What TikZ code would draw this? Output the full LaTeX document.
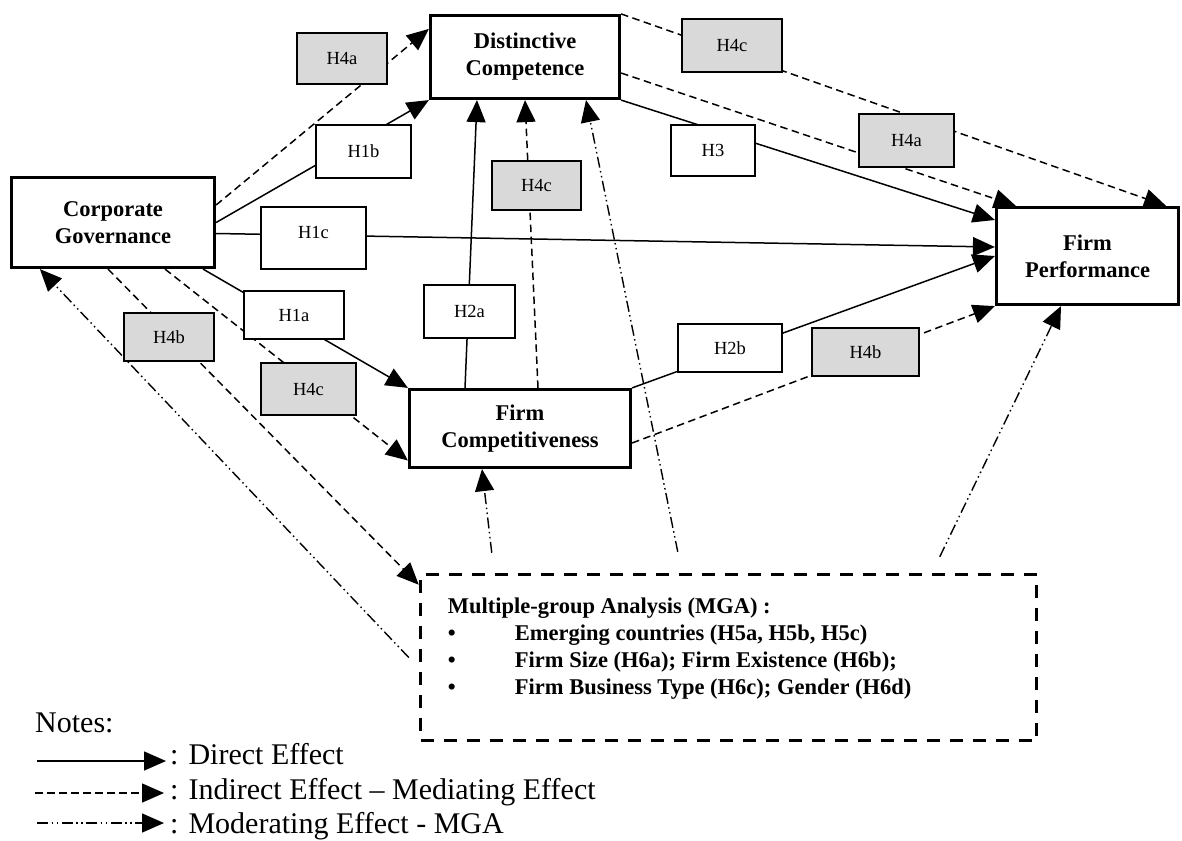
\documentclass[tikz,border=0pt]{standalone}
\usepackage{fontspec}
\setmainfont{Liberation Serif}
\usepackage{tikz}
\usetikzlibrary{arrows.meta,calc,positioning}
\definecolor{hypgray}{HTML}{D9D9D9}

\begin{document}
\begin{tikzpicture}[x=1pt,y=-1pt,
  construct/.style={draw,line width=3.2pt,fill=white,align=center,inner sep=0pt,font=\fontsize{22.5}{27}\selectfont\bfseries},
  hyp/.style={draw,line width=1.6pt,fill=white,inner sep=0pt,font=\fontsize{18.5}{22}\selectfont},
  hypmed/.style={hyp,fill=hypgray},
  legendtext/.style={anchor=base west,inner sep=0pt,font=\fontsize{30}{34}\selectfont},
  direct/.style={line width=1.5pt,-{Triangle[length=22pt,width=19pt]}},
  indirect/.style={direct,dash pattern=on 7.5pt off 4.5pt},
  moderate/.style={direct,line width=1.4pt,dash pattern=on 11pt off 3.5pt on 1.5pt off 3.5pt on 1.5pt off 3.5pt}]
  \useasboundingbox (0,0) rectangle (1182,840);

  \node[construct,minimum width=203pt,minimum height=90pt] (cg) at (113,222.5) {Corporate\\Governance};
  \node[construct,minimum width=189pt,minimum height=83pt] (dc) at (525,57) {Distinctive\\Competence};
  \node[construct,minimum width=221pt,minimum height=78pt] (fc) at (520,428.5) {Firm\\Competitiveness};
  \node[construct,minimum width=182pt,minimum height=97pt] (fp) at (1087.5,256) {Firm\\Performance};
  \node[draw,line width=3.5pt,dash pattern=on 13pt off 10pt,minimum width=616pt,minimum height=166pt,inner sep=0pt] (mga) at (728.5,657.5) {};
  \node[anchor=north west,align=left,inner sep=0pt,font=\fontsize{22.5}{27}\selectfont\bfseries] (mgatext) at ([xshift=29pt,yshift=-25pt]mga.north west)
    {Multiple-group Analysis (MGA) :\\
     \makebox[67pt][l]{\textbullet}Emerging countries (H5a, H5b, H5c)\\
     \makebox[67pt][l]{\textbullet}Firm Size (H6a); Firm Existence (H6b);\\
     \makebox[67pt][l]{\textbullet}Firm Business Type (H6c); Gender (H6d)};

  \draw[direct] (cg.east) -- (dc.south west);
  \draw[direct] ([yshift=-11pt]cg.east) -- ([yshift=9pt]fp.west);
  \draw[direct] ([xshift=-13pt]cg.south east) -- (fc.north west);
  \draw[direct] ([xshift=-55pt]fc.north) -- ([xshift=-48pt]dc.south);
  \draw[direct] (fc.north east) -- (fp.west);
  \draw[direct] (dc.south east) -- ([yshift=36pt]fp.west);

  \draw[indirect] ([yshift=17.5pt]cg.east) -- ([yshift=-15pt]dc.north west);
  \draw[indirect] (dc.north east) -- ([xshift=-14pt]fp.north east);
  \draw[indirect] ([yshift=-16pt]dc.east) -- ([xshift=21pt]fp.north west);
  \draw[indirect] ([yshift=-14.5pt]fc.east) -- (fp.south west);
  \draw[indirect] ([xshift=18pt]fc.north) -- (dc.south);
  \draw[indirect] ([xshift=52pt]cg.south) -- ([yshift=-32pt]fc.west);
  \draw[indirect] ([xshift=-5pt]cg.south) -- ([yshift=-12pt]mga.north west);

  \coordinate (mcg) at ([xshift=-10pt]mga.west);
  \coordinate (mfc) at ([xshift=73pt,yshift=20pt]mga.north west);
  \coordinate (mdc) at ([xshift=259pt,yshift=21pt]mga.north west);
  \coordinate (mfp) at ([xshift=521pt,yshift=16pt]mga.north west);
  \draw[moderate] (mcg) -- ([xshift=30pt]cg.south west);
  \draw[moderate] (mfc) -- ([xshift=-38pt]fc.south);
  \draw[moderate] (mdc) -- ([xshift=61pt]dc.south);
  \draw[moderate] (mfp) -- ([xshift=-26.5pt]fp.south);

  \node[hypmed,minimum width=90pt,minimum height=51pt] (h4a-cd) at (342,58.5) {H4a};
  \node[hyp,minimum width=95pt,minimum height=53pt] (h1b) at (363.5,151.5) {H1b};
  \node[hyp,minimum width=105pt,minimum height=62pt,text depth=12pt] (h1c) at (313.5,238) {H1c};
  \node[hyp,minimum width=100pt,minimum height=48pt] (h1a) at (294,315) {H1a};
  \node[hypmed,minimum width=90pt,minimum height=48pt] (h4b-cm) at (169,337) {H4b};
  \node[hypmed,minimum width=95pt,minimum height=52pt] (h4c-cf) at (308.5,389) {H4c};
  \node[hypmed,minimum width=100pt,minimum height=53pt] (h4c-dp) at (732,45.5) {H4c};
  \node[hypmed,minimum width=89pt,minimum height=49pt] (h4c-fd) at (536.5,185.5) {H4c};
  \node[hyp,minimum width=84pt,minimum height=51pt] (h3) at (713,150.5) {H3};
  \node[hyp,minimum width=91pt,minimum height=53pt] (h2a) at (469.5,311.5) {H2a};
  \node[hyp,minimum width=104pt,minimum height=48pt] (h2b) at (730,348) {H2b};
  \node[hypmed,minimum width=95pt,minimum height=53pt] (h4a-dp) at (906.5,140.5) {H4a};
  \node[hypmed,minimum width=107pt,minimum height=48pt] (h4b-fp) at (865.5,352) {H4b};

  \node[legendtext] (notes) at (35,732) {Notes:};
  \node[legendtext] (ldir) at (170,764) {: Direct Effect};
  \node[legendtext] (lind) at (170,799) {: Indirect Effect \textendash{} Mediating Effect};
  \node[legendtext] (lmod) at (170,833) {: Moderating Effect - MGA};
  \coordinate (ls1) at (37,761);
  \coordinate (ls2) at (35,793);
  \coordinate (ls3) at (37,823);
  \draw[direct] (ls1) -- ([xshift=-4pt,yshift=3pt]ldir.base west);
  \draw[indirect] (ls2) -- ([xshift=-6pt,yshift=6pt]lind.base west);
  \draw[moderate] (ls3) -- ([xshift=-6pt,yshift=10pt]lmod.base west);
\end{tikzpicture}
\end{document}
